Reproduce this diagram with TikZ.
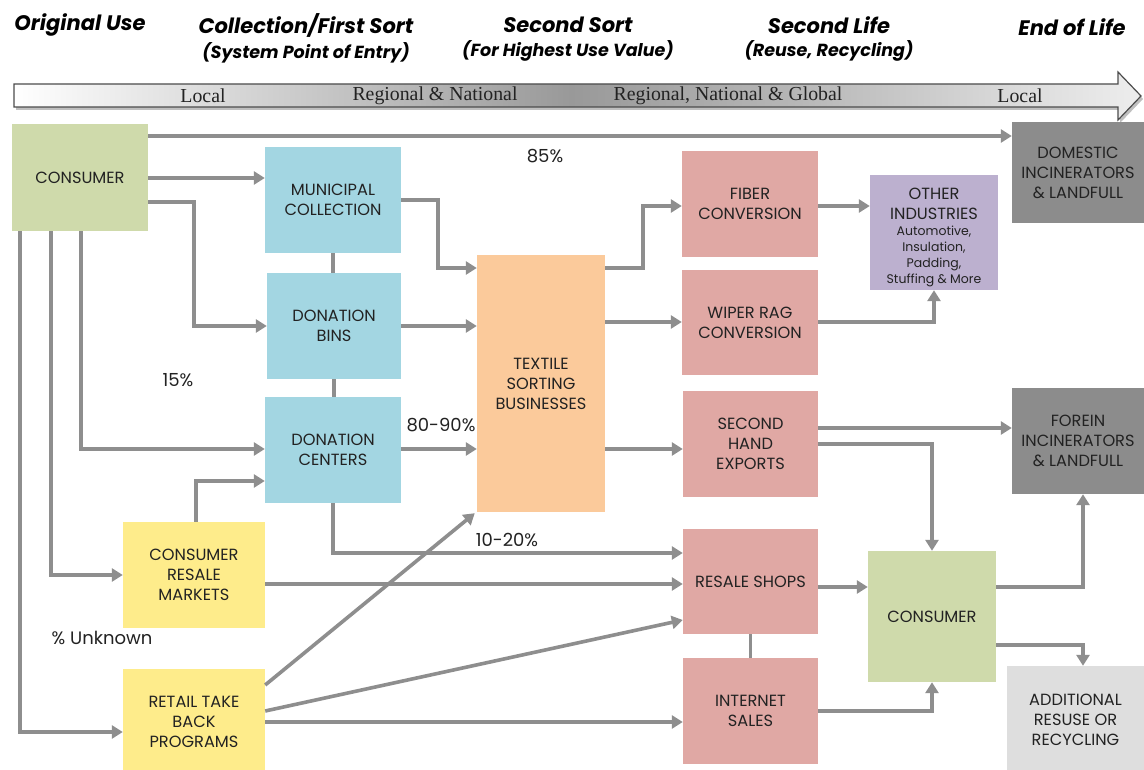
\documentclass[tikz,border=0pt]{standalone}
\usepackage{fontspec}
\setmainfont{Poppins}
\newfontfamily\barfont{Liberation Serif}
\usetikzlibrary{arrows.meta}
\definecolor{cgreen}{HTML}{CFDAAB}
\definecolor{cblue}{HTML}{A3D6E2}
\definecolor{cyellow}{HTML}{FEEC8B}
\definecolor{corange}{HTML}{FBCA9B}
\definecolor{cpink}{HTML}{E0A8A4}
\definecolor{cpurple}{HTML}{BCB0CF}
\definecolor{cdark}{HTML}{8C8C8C}
\definecolor{clight}{HTML}{DEDEDE}
\definecolor{cline}{HTML}{8E8E8E}
\definecolor{ctext}{HTML}{222222}
\pgfdeclarehorizontalshading{barshade}{100bp}{color(0bp)=(white); color(25bp)=(white); color(33bp)=(black!13); color(49.7bp)=(black!40); color(60bp)=(black!28); color(69.6bp)=(black!14); color(75bp)=(black!7); color(100bp)=(black!7)}
\newcommand{\smallind}{\fontsize{12.5}{16}\selectfont}
\tikzset{
  box/.style={inner sep=0pt, align=center, text=ctext, font=\fontsize{16.2}{20}\selectfont},
  arr/.style={draw=cline, line width=3.6pt, -{Triangle[length=11pt,width=13pt]}},
  conn/.style={draw=cline, line width=3.6pt},
  hdr/.style={font=\fontsize{21}{24}\selectfont\bfseries\itshape, text=black},
  sub/.style={font=\fontsize{17.5}{20}\selectfont\bfseries\itshape, text=black},
  pct/.style={font=\fontsize{18}{20}\selectfont, text=ctext},
  barlab/.style={font=\barfont\fontsize{19.8}{22}\selectfont, text=ctext}
}
\begin{document}
\begin{tikzpicture}[x=1pt,y=-1pt]
\useasboundingbox (0,0) rectangle (1144,770);
\fill[white] (0,0) rectangle (1144,770);
% headers
\node[hdr] (h1) at (80,25) {Original Use};
\node[hdr] (h2) at (306,25) {Collection/First Sort};
\node[sub] (h2b) at (306,53) {(System Point of Entry)};
\node[hdr] (h3) at (568,25) {Second Sort};
\node[sub] (h3b) at (568,51) {(For Highest Use Value)};
\node[hdr] (h4) at (829,25) {Second Life};
\node[sub] (h4b) at (829,51) {(Reuse, Recycling)};
\node[hdr] (h5) at (1072,27) {End of Life};
% arrow bar
\fill[black, opacity=0.25] (16,87) -- (1120,87) -- (1120,75) -- (1143,99) -- (1120,123) -- (1120,110) -- (16,110) -- cycle;
\path[draw=black!70, line width=1.2pt, shading=barshade]
  (14,84) -- (1118,84) -- (1118,72) -- (1141,96) -- (1118,120) -- (1118,107) -- (14,107) -- cycle;
\node[barlab] (b1) at (203,96) {Local};
\node[barlab] (b2) at (435,96) {Regional \& National};
\node[barlab] (b3) at (728,96) {Regional, National \& Global};
\node[barlab] (b4) at (1020,96) {Local};
% nodes
\node[box, fill=cgreen, minimum width=136pt, minimum height=107pt] (cons1) at (80,177.5) {CONSUMER};
\node[box, fill=cblue, minimum width=136pt, minimum height=106pt] (muni) at (333,200) {MUNICIPAL\\COLLECTION};
\node[box, fill=cblue, minimum width=134pt, minimum height=106pt] (bins) at (334,326) {DONATION\\BINS};
\node[box, fill=cblue, minimum width=136pt, minimum height=106pt] (cent) at (333,450) {DONATION\\CENTERS};
\node[box, fill=cyellow, minimum width=142pt, minimum height=106pt] (crm) at (194,575) {CONSUMER\\RESALE\\MARKETS};
\node[box, fill=cyellow, minimum width=142pt, minimum height=106pt] (rtb) at (194,722) {RETAIL TAKE\\BACK\\PROGRAMS};
\node[box, fill=corange, minimum width=128pt, minimum height=257pt] (sort) at (541,383.5) {TEXTILE\\SORTING\\BUSINESSES};
\node[box, fill=cpink, minimum width=136pt, minimum height=106pt] (fiber) at (750,204) {FIBER\\CONVERSION};
\node[box, fill=cpink, minimum width=136pt, minimum height=105pt] (wiper) at (750,322.5) {WIPER RAG\\CONVERSION};
\node[box, fill=cpink, minimum width=135pt, minimum height=106pt] (she) at (750.5,444) {SECOND\\HAND\\EXPORTS};
\node[box, fill=cpink, minimum width=135pt, minimum height=105pt] (rs) at (750.5,581.5) {RESALE SHOPS};
\node[box, fill=cpink, minimum width=135pt, minimum height=106pt] (inet) at (750.5,711) {INTERNET\\SALES};
\node[box, fill=cpurple, minimum width=128pt, minimum height=115pt] (oth) at (934,232.5)
  {\rule{0pt}{22pt}OTHER\\INDUSTRIES\\[-4pt]\smallind Automotive,\\[-4pt]\smallind Insulation,\\[-4pt]\smallind Padding,\\[-4pt]\smallind Stuffing \& More};
\node[box, fill=cdark, minimum width=132pt, minimum height=101pt] (dom) at (1078,172.5) {DOMESTIC\\INCINERATORS\\\& LANDFULL};
\node[box, fill=cdark, minimum width=132pt, minimum height=106pt] (for) at (1078,441) {FOREIN\\INCINERATORS\\\& LANDFULL};
\node[box, fill=cgreen, minimum width=128pt, minimum height=131pt] (cons2) at (932,616.5) {CONSUMER};
\node[box, fill=clight, minimum width=137pt, minimum height=108pt] (add) at (1075.5,720) {ADDITIONAL\\RESUSE OR\\RECYCLING};
% percentage labels
\node[pct] (p85) at (545,156) {85\%};
\node[pct] (p15) at (178,380) {15\%};
\node[pct] (p8090) at (441,425) {80-90\%};
\node[pct] (p1020) at (507,540) {10-20\%};
\node[pct] (punk) at (102,638) {\% Unknown};
% connectors
\draw[arr] (cons1.east |- 0,136) -- (dom.west |- 0,136);
\draw[arr] (cons1.east |- 0,178) -- (muni.west |- 0,178);
\draw[arr] (cons1.east |- 0,202) -| (194,326) -- (bins.west |- 0,326);
\draw[arr] (cons1.south -| 81,0) |- (cent.west |- 0,449);
\draw[arr] (cons1.south -| 51,0) |- (crm.west |- 0,575);
\draw[arr] (cons1.south -| 20,0) |- (rtb.west |- 0,732);
\draw[arr] (muni.east |- 0,200) -| (438,268) -- (sort.west |- 0,268);
\draw[conn] (muni.south) -- (bins.north -| muni.south);
\draw[conn] (bins.south) -- (cent.north -| bins.south);
\draw[arr] (bins.east |- 0,326) -- (sort.west |- 0,326);
\draw[arr] (cent.east |- 0,449) -- (sort.west |- 0,449);
\draw[arr] (crm.north -| 196,0) |- (cent.west |- 0,481);
\draw[arr] (cent.south) |- (rs.west |- 0,553);
\draw[arr] (crm.east |- 0,584) -- (rs.west |- 0,584);
\draw[arr] (rtb.east |- 0,685) -- ([xshift=-2pt,yshift=-1pt]sort.south west);
\draw[arr] (rtb.east |- 0,711) -- (rs.west |- 0,620);
\draw[arr] (rtb.east |- 0,722) -- (inet.west |- 0,722);
\draw[arr] (sort.east |- 0,268) -| (643,206) -- (fiber.west |- 0,206);
\draw[arr] (sort.east |- 0,322) -- (wiper.west |- 0,322);
\draw[arr] (sort.east |- 0,449) -- (she.west |- 0,449);
\draw[arr] (fiber.east |- 0,206) -- (oth.west |- 0,206);
\draw[arr] (wiper.east |- 0,322) -| (oth.south);
\draw[arr] (she.east |- 0,428) -- (for.west |- 0,428);
\draw[arr] (she.east |- 0,444) -| (cons2.north);
\draw[conn] (rs.south) -- (inet.north);
\draw[arr] (rs.east |- 0,587) -- (cons2.west |- 0,587);
\draw[arr] (inet.east |- 0,711) -| (cons2.south);
\draw[arr] (cons2.east |- 0,587) -| (for.south -| 1083,0);
\draw[arr] (cons2.east |- 0,645) -| (add.north -| 1083,0);
\end{tikzpicture}
\end{document}
